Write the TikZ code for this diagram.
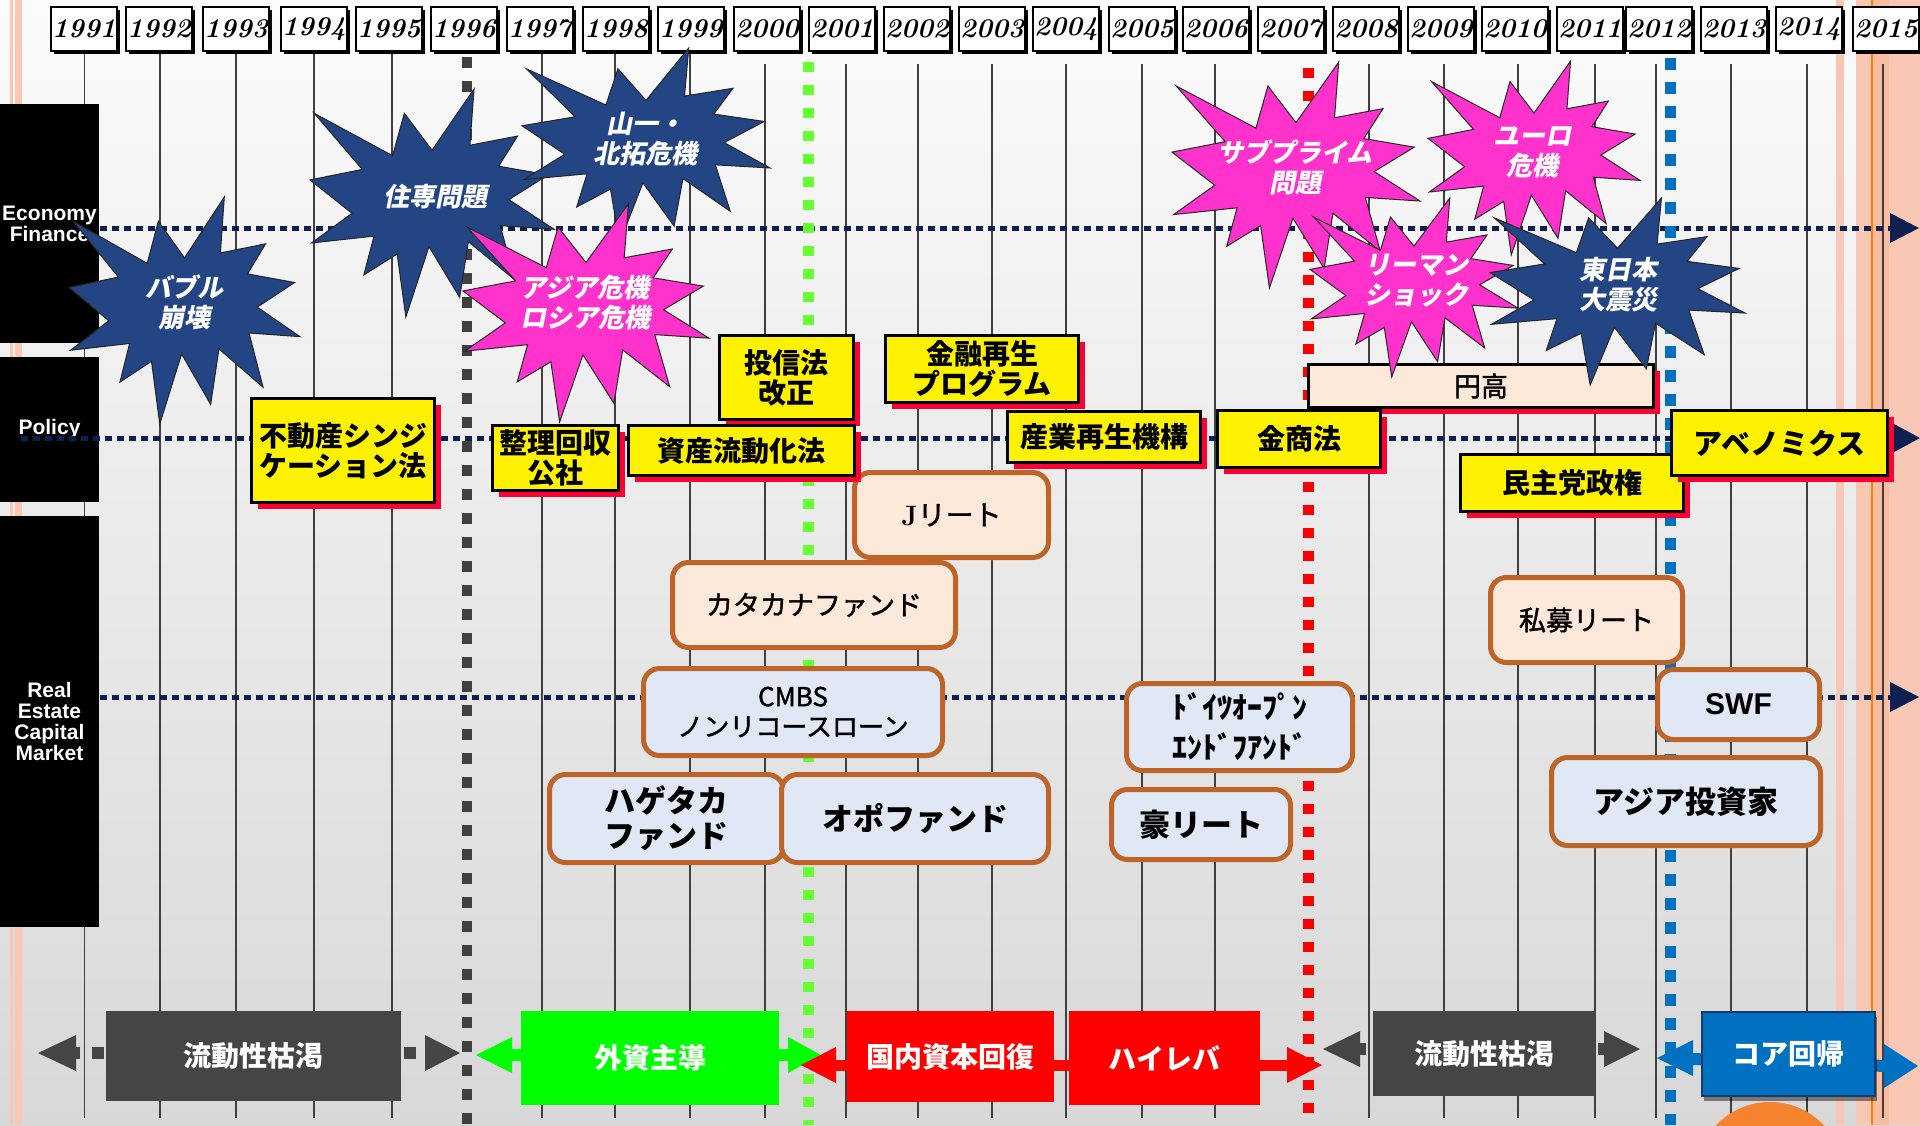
\documentclass[tikz,border=0pt]{standalone}
\usepackage{fontspec}
\usetikzlibrary{shadows}
\newfontfamily\jp{Noto Sans CJK JP}
\newfontfamily\jpm{Noto Sans CJK JP}[FakeBold=1.5]
\newfontfamily\jpsl{Noto Sans CJK JP}[FakeSlant=0.2]
\newfontfamily\arl{Liberation Sans}
\definecolor{navyd}{HTML}{0F2050}
\definecolor{starnavy}{HTML}{234584}
\definecolor{starpink}{HTML}{FF33CC}
\definecolor{shred}{HTML}{FF0033}
\definecolor{peach}{HTML}{FDE9D9}
\definecolor{lblue}{HTML}{E0E8F6}
\definecolor{rbrown}{HTML}{BE6428}
\definecolor{salm}{HTML}{F9C8B4}
\definecolor{salmd}{HTML}{F8BCA0}
\definecolor{dgrey}{HTML}{454545}
\definecolor{dgreyl}{HTML}{404040}
\definecolor{coreblue}{HTML}{0070C0}
\definecolor{corenavy}{HTML}{163A6A}
\definecolor{grnline}{HTML}{66FF33}
\definecolor{puregreen}{HTML}{00FF00}
\definecolor{orng}{HTML}{F5822F}
\definecolor{bgtop}{HTML}{FBFBFB}
\definecolor{bgmid}{HTML}{F3F3F3}
\definecolor{bgbot}{HTML}{D8D8D8}
\newcommand\ffyr{\fontsize{27}{28}\selectfont\rmfamily\bfseries\itshape}
\newcommand\fflbl{\arl\bfseries\fontsize{21}{21}\selectfont}
\newcommand\ffpol{\jp\bfseries\fontsize{28}{30}\selectfont}
\newcommand\ffabe{\jp\bfseries\fontsize{29}{30}\selectfont}
\newcommand\ffend{\jpm\fontsize{27}{30}\selectfont}
\newcommand\ffjr{\jpm\fontsize{28}{28}\selectfont}
\newcommand\ffkata{\jpm\fontsize{27}{30}\selectfont}
\newcommand\ffcmbs{\jpm\fontsize{26}{30}\selectfont}
\newcommand\ffbig{\jp\bfseries\fontsize{31}{35}\selectfont}
\newcommand\ffdoi{\jp\bfseries\fontsize{30}{40}\selectfont}
\newcommand\ffswf{\arl\bfseries\fontsize{30}{30}\selectfont}
\newcommand\ffbot{\jp\bfseries\fontsize{28}{30}\selectfont}
\newcommand\ffstar{\jpsl\bfseries\fontsize{26}{30}\selectfont}
% irregular explosion shape: color, x0, y0, w, h
\newcommand\irrseal[5]{%
\begin{scope}[shift={(#2,#3)},xscale=#4,yscale=#5]
\filldraw[fill=#1,draw=black!85,line width=1pt]
(0.5000,0.2685) -- (0.6723,0) -- (0.6553,0.2465) -- (0.8509,0.2063) -- (0.7732,0.3387) --
(0.9767,0.3767) -- (0.8151,0.4850) -- (1,0.6153) -- (0.7795,0.5992) -- (0.8400,0.8377) --
(0.6491,0.6693) -- (0.6133,0.9138) -- (0.4876,0.6914) -- (0.3928,1) -- (0.3572,0.7235) --
(0.2205,0.8156) -- (0.2624,0.6452) -- (0.0063,0.6753) -- (0.1723,0.5451) -- (0,0.3988) --
(0.2142,0.3526) -- (0.0171,0.1063) -- (0.3385,0.2926) -- (0.3867,0.1063) -- cycle;
\end{scope}}
\begin{document}
\begin{tikzpicture}[x=1pt,y=-1pt,
 yearbox/.style={draw=black,line width=2pt,fill=white,minimum width=66pt,minimum height=44pt,inner sep=0pt,font=\ffyr,drop shadow={shadow xshift=3pt,shadow yshift=-3pt,opacity=1,fill=black}},
 yline/.style={draw=black!75,line width=1.3pt},
 lblbox/.style={fill=black,text=white,minimum width=99pt,inner sep=0pt,align=center,font=\fflbl},
 navydot/.style={draw=navyd,line width=5pt,dash pattern=on 7pt off 5pt},
 pbox/.style={draw=black,line width=3pt,fill=yellow,inner sep=0pt,align=center,font=\ffpol,drop shadow={shadow xshift=6pt,shadow yshift=-6pt,opacity=1,fill=shred}},
 rbox/.style={draw=rbrown,line width=5pt,rounded corners=16pt,inner sep=0pt,align=center},
 botbox/.style={inner sep=0pt,text=white,font=\ffbot,align=center},
 startext/.style={text=white,font=\ffstar,align=center,inner sep=0pt},
]
\useasboundingbox (0,0) rectangle (1920,1125);
% background
\shade[top color=bgtop,middle color=bgmid,bottom color=bgbot] (0,0) rectangle (1920,1125);
% side bands
\fill[salm] (10,0) rectangle (12.5,1125);
\fill[salm] (15,0) rectangle (21.5,1125);
\fill[salm] (1836,0) rectangle (1844,1125);
\fill[salm] (1856,0) rectangle (1920,1125);
\fill[salmd] (1873,0) rectangle (1889,1125);
\draw[draw=orange,line width=1.5pt] (1872,0) -- (1872,1125);
% year lines
\foreach \x in {84.5,160,236,314,392,542,615,690} \draw[yline] (\x,52) -- (\x,1118);
\foreach \x in {765,846,918,992,1066,1142,1215,1369,1444,1518,1595,1656,1731,1807,1883} \draw[yline] (\x,64) -- (\x,1118);
% row label boxes
\node[lblbox,minimum height=239pt] (econ) at (49.5,223.5) {Economy\\Finance};
\node[lblbox,minimum height=145pt] (pol) at (49.5,429.5) {Policy};
\node[lblbox,minimum height=411pt] (recm) at (49.5,721.5) {Real\\Estate\\Capital\\Market};
% dotted row lines
\coordinate (eL) at (100,228); \coordinate (eR) at (1890,228);
\coordinate (pL) at (21,438); \coordinate (pR) at (1893,438);
\coordinate (rL) at (100,697); \coordinate (rR) at (1890,697);
\draw[navydot] (eL) -- (eR);
\draw[navydot] (pL) -- (pR);
\draw[navydot] (rL) -- (rR);
\fill[navyd] (1890,213) -- (1919,228) -- (1890,243) -- cycle;
\fill[navyd] (1894,424) -- (1920,438) -- (1894,452) -- cycle;
\fill[navyd] (1890,682) -- (1919,697) -- (1890,712) -- cycle;
% era dashed lines
\draw[draw=dgreyl,line width=10pt,dash pattern=on 11pt off 13pt] (467,57) -- (467,1125);
\draw[draw=grnline,line width=11pt,dash pattern=on 10pt off 13pt] (808,62) -- (808,1125);
\draw[draw=red,line width=11pt,dash pattern=on 10pt off 13pt] (1308,68) -- (1308,1125);
\draw[draw=coreblue,line width=11pt,dash pattern=on 12pt off 12pt] (1670,58) -- (1670,1125);
% year boxes
\foreach \yr/\xl in {1991/50,1992/125,1993/202,1994/280,1995/355,1996/430,1997/506,1998/582,1999/657,2000/733,2001/808,2002/883,2003/958,2004/1032,2005/1108,2006/1182,2007/1257,2008/1332,2009/1407,2010/1481,2011/1556,2012/1625,2013/1700,2014/1775,2015/1852}
  \node[yearbox] (y\yr) at ({\xl+34},29) {\yr};
% ---------- bottom phase arrows ----------
% grey 1
\coordinate (g1L) at (38,1053); \coordinate (g1R) at (460,1053);
\coordinate (g1Lb) at (76,1053); \coordinate (g1Rb) at (425,1053);
\draw[dgrey,line width=12pt,dash pattern=on 12pt off 12pt,dash phase=8pt] (g1Lb) -- (g1Rb);
\fill[dgrey] (g1L) -- (76,1035) -- (76,1071) -- cycle;
\fill[dgrey] (g1R) -- (425,1035) -- (425,1071) -- cycle;
\node[botbox,fill=dgrey,minimum width=295pt,minimum height=90pt] (liq1) at (253.5,1056) {流動性枯渇};
% green
\coordinate (gnL) at (476,1055); \coordinate (gnR) at (821,1055);
\draw[puregreen,line width=12pt] (512,1055) -- (788,1055);
\fill[puregreen] (gnL) -- (512,1037) -- (512,1073) -- cycle;
\fill[puregreen] (gnR) -- (788,1037) -- (788,1073) -- cycle;
\node[botbox,fill=puregreen,minimum width=258pt,minimum height=94pt] (fdi) at (650,1058) {外資主導};
% red
\coordinate (rdL) at (801,1065); \coordinate (rdR) at (1322,1065);
\draw[red,line width=11pt] (836,1065) -- (1287,1065);
\fill[red] (rdL) -- (836,1047) -- (836,1083) -- cycle;
\fill[red] (rdR) -- (1287,1047) -- (1287,1083) -- cycle;
\node[botbox,fill=red,minimum width=207pt,minimum height=91pt] (dom) at (950.5,1056.5) {国内資本回復};
\node[botbox,fill=red,minimum width=191pt,minimum height=94pt] (hilev) at (1164.5,1058) {ハイレバ};
% grey 2
\coordinate (g2L) at (1323,1049); \coordinate (g2R) at (1640,1049);
\draw[dgrey,line width=12pt,dash pattern=on 6pt off 8pt] (1360,1049) -- (1604,1049);
\fill[dgrey] (g2L) -- (1360,1031) -- (1360,1067) -- cycle;
\fill[dgrey] (g2R) -- (1604,1031) -- (1604,1067) -- cycle;
\node[botbox,fill=dgrey,minimum width=222pt,minimum height=85pt] (liq2) at (1484,1053.5) {流動性枯渇};
% blue
\fill[orng] (1770,1176) circle[radius=74pt];
\coordinate (bL) at (1657,1058); \coordinate (bR) at (1918,1066);
\draw[coreblue,line width=12pt] (1693,1059) -- (1886,1066);
\fill[coreblue] (bL) -- (1693,1040) -- (1693,1076) -- cycle;
\fill[coreblue] (bR) -- (1884,1044) -- (1884,1088) -- cycle;
\node[botbox,fill=coreblue,draw=corenavy,line width=2pt,minimum width=173pt,minimum height=84pt,drop shadow={shadow xshift=2pt,shadow yshift=-5pt,opacity=0.45,fill=black}] (core) at (1788.5,1054) {コア回帰};
% ---------- real estate capital market boxes ----------
\node[rbox,fill=peach,font=\ffjr,minimum width=194pt,minimum height=85pt] (jreit) at (951.5,515) {{\rmfamily\bfseries J}リート};
\node[rbox,fill=peach,font=\ffkata,minimum width=283pt,minimum height=85pt] (kata) at (814,605) {カタカナファンド};
\node[rbox,fill=lblue,font=\ffcmbs,minimum width=299pt,minimum height=87pt] (cmbs) at (793,712) {CMBS\\ノンリコースローン};
\node[rbox,fill=lblue,font=\ffbig,minimum width=234pt,minimum height=88pt] (hage) at (666.5,818.5) {ハゲタカ\\ファンド};
\node[rbox,fill=lblue,font=\ffbig,minimum width=267pt,minimum height=88pt] (opo) at (915,818.5) {オポファンド};
\node[rbox,fill=lblue,font=\ffdoi,minimum width=226pt,minimum height=87pt] (doitsu) at (1239.5,727) {ﾄﾞｲﾂｵｰﾌﾟﾝ\\ｴﾝﾄﾞﾌｱﾝﾄﾞ};
\node[rbox,fill=lblue,font=\ffbig,minimum width=179pt,minimum height=70pt] (gou) at (1201,824.5) {豪リート};
\node[rbox,fill=peach,font=\ffkata,minimum width=192pt,minimum height=85pt] (shibo) at (1586.5,620) {私募リート};
\node[rbox,fill=lblue,font=\ffswf,minimum width=162pt,minimum height=70pt] (swf) at (1738.5,704.5) {SWF};
\node[rbox,fill=lblue,font=\ffbig,minimum width=269pt,minimum height=88pt] (asiainv) at (1686,801.5) {アジア投資家};
% ---------- policy boxes ----------
\node[pbox,minimum width=183pt,minimum height=104pt] (fudo) at (343,450.5) {不動産シンジ\\ケーション法};
\node[pbox,minimum width=126pt,minimum height=65pt] (seiri) at (555.5,458) {整理回収\\公社};
\node[pbox,minimum width=134pt,minimum height=84pt] (toshin) at (786.5,377.5) {投信法\\改正};
\node[pbox,minimum width=226pt,minimum height=50pt] (shisan) at (741.5,450.5) {資産流動化法};
\node[pbox,minimum width=193pt,minimum height=67pt] (kinyu) at (982,369) {金融再生\\プログラム};
\node[pbox,minimum width=193pt,minimum height=51pt] (sangyo) at (1104,437) {産業再生機構};
\node[pbox,fill=peach,font=\ffend,minimum width=345pt,minimum height=43pt] (endaka) at (1481,386) {円高};
\node[pbox,minimum width=163pt,minimum height=57pt] (kinsho) at (1299,439) {金商法};
\node[pbox,minimum width=223pt,minimum height=57pt] (minshu) at (1572,483) {民主党政権};
\node[pbox,font=\ffabe,minimum width=216pt,minimum height=65pt] (abe) at (1779.5,443) {アベノミクス};
% ---------- event explosions ----------
\irrseal{starnavy}{69}{197}{231}{227}
\node[startext] (tBubble) at (184,302) {バブル\\崩壊};
\irrseal{starnavy}{310}{89}{244}{228}
\node[startext] (tJusen) at (435,197) {住専問題};
\irrseal{starnavy}{522}{48}{248}{195}
\node[startext] (tYamaichi) at (645,139) {山一・\\北拓危機};
\irrseal{starpink}{463}{204}{246}{218}
\node[startext] (tAsia) at (585,303) {アジア危機\\ロシア危機};
\irrseal{starpink}{1172}{62}{248}{226}
\node[startext] (tSub) at (1295,167) {サブプライム\\問題};
\irrseal{starpink}{1428}{61}{212}{194}
\node[startext] (tEuro) at (1532,152) {ユーロ\\危機};
\irrseal{starpink}{1310}{198}{208}{179}
\node[startext] (tLehman) at (1416,281) {リーマン\\ショック};
\irrseal{starnavy}{1490}{198}{255}{187}
\node[startext] (tQuake) at (1618,285) {東日本\\大震災};
\end{tikzpicture}
\end{document}
